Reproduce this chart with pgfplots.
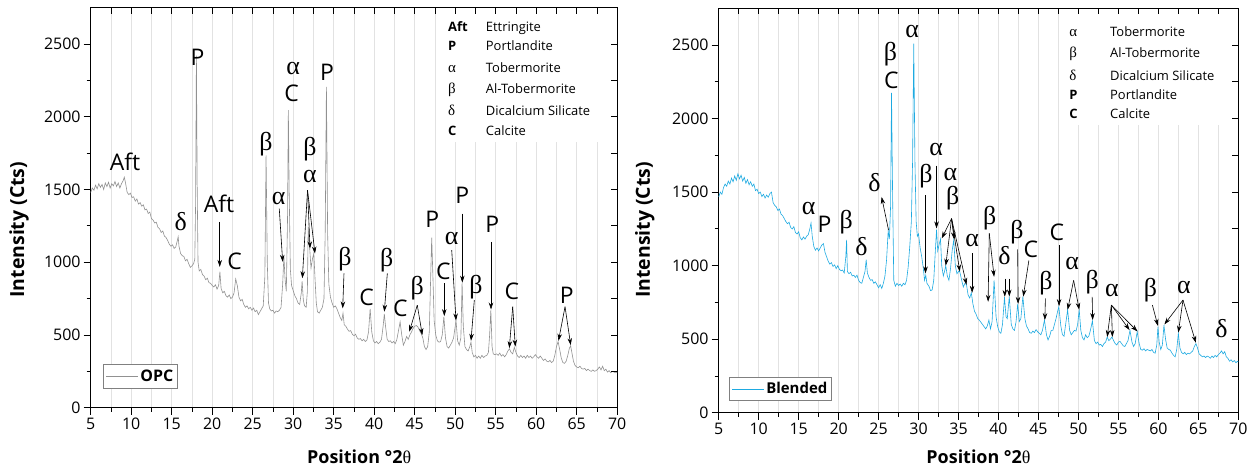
\documentclass[border=0pt]{standalone}
\usepackage{pgfplots}
\pgfplotsset{compat=1.18}
\usetikzlibrary{arrows.meta}
\usepackage{fontspec}
\setmainfont{Open Sans}
\newfontfamily\grk{Liberation Serif}
\definecolor{opc}{RGB}{145,145,145}
\definecolor{bl}{RGB}{30,170,225}
\definecolor{gridc}{RGB}{226,226,226}
\newcommand{\lab}[1]{{\fontsize{23}{23}\selectfont #1}}
\newcommand{\glab}[1]{{\grk\fontsize{26}{26}\selectfont #1}}
\newcommand{\lsym}[1]{{\fontsize{13}{13}\selectfont\bfseries #1}}
\newcommand{\lgsym}[1]{{\grk\fontsize{15}{15}\selectfont #1}}
\newcommand{\ltxt}[1]{{\fontsize{13}{13}\selectfont #1}}
\tikzset{arr/.style={-{Stealth[length=7bp,width=4.5bp]}, line width=0.6bp, black},
  every node/.append style={inner sep=0pt}}
\pgfplotsset{
 base/.style={scale only axis, xmin=5, xmax=70, ymin=0, ymax=2750, clip=false,
   axis line style={line width=0.9bp}},
 main/.style={base, xtick={5,10,...,70}, ytick={0,500,...,2500},
   minor x tick num=1, minor y tick num=1, xtick pos=bottom, ytick pos=left,
   tick align=outside, major tick length=7bp, minor tick length=4bp,
   xmajorgrids, xminorgrids,
   major grid style={gridc, line width=0.6bp}, minor grid style={gridc, line width=0.6bp},
   tick style={black, line width=0.8bp},
   ticklabel style={font=\fontsize{16}{16}\selectfont, inner sep=3bp},
   /pgf/number format/assume math mode=true, /pgf/number format/1000 sep={},
   xlabel={Position °2{\grk\mdseries θ}}, ylabel={Intensity (Cts)},
   xlabel style={font=\fontsize{18}{18}\selectfont\bfseries},
   ylabel style={font=\fontsize{19.5}{19.5}\selectfont\bfseries},
   legend cell align=left,
   legend image code/.code={\draw[#1] (0bp,0bp) -- (32bp,0bp);},
   legend style={draw=gray, line width=0.8bp, fill=white, inner xsep=2bp, inner ysep=3bp,
     nodes={inner sep=2bp}}},
 over/.style={base, xtick={5,7.5,...,70}, ytick={250,500,...,2500}, xtick pos=top, ytick pos=right,
   tick align=inside, major tick length=6bp, xticklabels={}, yticklabels={},
   tick style={black, line width=0.8bp}, axis line style={draw=none}}
}
\begin{document}
\begin{tikzpicture}
% ---------------- OPC ----------------
\begin{axis}[main, width=526.5bp, height=400bp, at={(0bp,0bp)}, anchor=south west,
  ylabel style={at={(axis description cs:-0.136,0.445)}, anchor=center},
  xlabel style={at={(axis description cs:0.51,-0.1225)}, anchor=center},
  legend style={at={(axis description cs:0.024,0.0485)}, anchor=south west,
    font=\fontsize{16}{16}\selectfont\bfseries}]
\fill[white] (axis cs:48.6,1830) rectangle (axis cs:68.5,2745);
\addplot[opc, line width=0.6bp] coordinates {
(5.0,1480)(5.2,1510)(5.4,1495)(5.6,1530)(5.8,1505)(6.0,1540)(6.2,1515)(6.4,1535)(6.6,1500)(6.8,1545)
(7.0,1520)(7.2,1550)(7.4,1510)(7.6,1540)(7.8,1525)(8.0,1555)(8.2,1520)(8.4,1545)(8.6,1510)(8.8,1540)
(9.0,1560)(9.15,1585)(9.3,1545)(9.5,1480)(9.7,1465)(9.9,1475)(10.1,1445)(10.3,1450)(10.5,1420)(10.7,1435)
(10.9,1400)(11.1,1410)(11.3,1385)(11.5,1395)(11.7,1360)(11.9,1365)(12.1,1335)(12.3,1345)(12.5,1300)(12.7,1290)
(12.9,1270)(13.1,1275)(13.3,1240)(13.5,1230)(13.7,1205)(13.9,1215)(14.1,1180)(14.3,1170)(14.5,1150)(14.7,1125)
(14.9,1110)(15.1,1120)(15.3,1095)(15.5,1105)(15.7,1150)(15.8,1175)(15.9,1110)(16.1,1060)(16.3,1045)(16.5,1040)
(16.7,1010)(16.9,1020)(17.1,990)(17.3,965)(17.5,975)(17.7,990)(17.85,1020)(17.95,1400)(18.05,2420)(18.15,1500)
(18.25,1000)(18.4,940)(18.6,950)(18.8,915)(19.0,905)(19.2,880)(19.4,890)(19.6,860)(19.8,855)(20.0,840)
(20.2,830)(20.4,845)(20.6,815)(20.8,840)(20.95,935)(21.1,820)(21.3,790)(21.5,800)(21.7,770)(21.9,760)
(22.1,775)(22.3,750)(22.5,760)(22.7,790)(22.9,885)(23.1,840)(23.3,760)(23.5,735)(23.7,745)(23.9,710)
(24.1,690)(24.3,700)(24.5,680)(24.7,690)(24.9,670)(25.1,685)(25.3,660)(25.5,670)(25.7,640)(25.9,660)
(26.1,680)(26.3,700)(26.5,900)(26.65,1735)(26.8,1000)(26.95,720)(27.1,680)(27.3,665)(27.5,670)(27.7,650)
(27.9,665)(28.1,660)(28.3,670)(28.5,690)(28.7,850)(28.85,1040)(29.0,880)(29.15,800)(29.3,1300)(29.4,2045)
(29.5,1500)(29.65,950)(29.8,840)(30.0,805)(30.2,770)(30.4,750)(30.6,720)(30.8,710)(31.0,790)(31.1,870)
(31.25,740)(31.4,700)(31.6,690)(31.75,800)(31.85,1245)(31.95,1150)(32.05,1085)(32.2,960)(32.4,1030)(32.55,1060)
(32.7,880)(32.85,720)(33.0,660)(33.2,650)(33.4,670)(33.6,690)(33.8,750)(33.95,1200)(34.1,2205)(34.25,1200)
(34.4,850)(34.6,760)(34.8,720)(35.0,690)(35.2,700)(35.4,680)(35.6,650)(35.8,620)(36.0,600)(36.15,650)
(36.3,570)(36.5,560)(36.7,540)(36.9,525)(37.1,530)(37.3,505)(37.5,495)(37.7,505)(37.9,480)(38.1,470)
(38.3,475)(38.5,460)(38.7,470)(38.9,455)(39.1,465)(39.3,520)(39.5,680)(39.7,520)(39.9,460)(40.1,445)
(40.3,455)(40.5,440)(40.7,450)(40.9,470)(41.1,560)(41.25,645)(41.4,560)(41.6,470)(41.8,455)(42.0,460)
(42.2,445)(42.4,455)(42.6,440)(42.8,470)(43.0,530)(43.2,590)(43.4,500)(43.6,430)(43.8,455)(44.0,490)
(44.2,470)(44.4,500)(44.6,520)(44.8,545)(45.0,560)(45.2,565)(45.4,555)(45.6,530)(45.8,510)(46.0,480)
(46.2,420)(46.4,400)(46.6,420)(46.8,520)(46.95,850)(47.1,1170)(47.25,900)(47.4,600)(47.6,500)(47.8,460)
(48.0,450)(48.2,455)(48.4,500)(48.6,625)(48.8,480)(49.0,420)(49.2,410)(49.4,430)(49.6,450)(49.8,480)
(50.0,560)(50.1,600)(50.3,460)(50.5,430)(50.7,480)(50.85,860)(51.0,560)(51.2,420)(51.4,400)(51.6,390)
(51.8,420)(51.95,450)(52.1,380)(52.3,350)(52.5,360)(52.7,340)(52.9,355)(53.1,340)(53.3,360)(53.5,345)
(53.7,355)(53.9,360)(54.1,380)(54.25,500)(54.4,670)(54.55,420)(54.7,370)(54.9,365)(55.1,370)(55.3,360)
(55.5,375)(55.7,355)(55.9,365)(56.1,350)(56.3,365)(56.5,390)(56.7,405)(56.9,380)(57.1,370)(57.3,415)
(57.5,380)(57.7,355)(57.9,345)(58.1,360)(58.3,345)(58.5,355)(58.7,340)(58.9,360)(59.1,345)(59.3,355)
(59.5,340)(59.7,350)(59.9,365)(60.1,350)(60.3,340)(60.5,355)(60.7,340)(60.9,325)(61.1,335)(61.3,320)
(61.5,315)(61.7,325)(61.9,310)(62.1,320)(62.3,360)(62.5,420)(62.7,455)(62.9,400)(63.1,340)(63.3,310)
(63.5,305)(63.7,320)(63.9,360)(64.1,410)(64.25,425)(64.4,380)(64.6,320)(64.8,290)(65.0,280)(65.2,275)
(65.4,285)(65.6,270)(65.8,265)(66.0,270)(66.2,255)(66.4,265)(66.6,255)(66.8,250)(67.0,260)(67.2,250)
(67.4,255)(67.6,265)(67.8,280)(68.0,260)(68.2,285)(68.4,255)(68.6,265)(68.8,245)(69.0,255)(69.2,240)
(69.4,250)(69.6,245)(69.8,240)(70.0,245)};
\addlegendentry{OPC}
% legend list
\node[anchor=base west] at (axis cs:49.11,2589) {\lsym{Aft}};
\node[anchor=base west] at (axis cs:53.77,2589) {\ltxt{Ettringite}};
\node[anchor=base west] at (axis cs:49.11,2457) {\lsym{P}};
\node[anchor=base west] at (axis cs:53.77,2457) {\ltxt{Portlandite}};
\node[anchor=base west] at (axis cs:49.11,2304) {\lgsym{α}};
\node[anchor=base west] at (axis cs:53.77,2304) {\ltxt{Tobermorite}};
\node[anchor=base west] at (axis cs:49.11,2160) {\lgsym{β}};
\node[anchor=base west] at (axis cs:53.77,2160) {\ltxt{Al-Tobermorite}};
\node[anchor=base west] at (axis cs:49.11,2011) {\lgsym{δ}};
\node[anchor=base west] at (axis cs:53.77,2011) {\ltxt{Dicalcium Silicate}};
\node[anchor=base west] at (axis cs:49.11,1874) {\lsym{C}};
\node[anchor=base west] at (axis cs:53.77,1874) {\ltxt{Calcite}};
% peak labels
\node at (axis cs:9.23,1691) {\lab{Aft}};
\node at (axis cs:18.19,2410) {\lab{P}};
\node at (axis cs:16.12,1277) {\glab{δ}};
\node at (axis cs:20.84,1399) {\lab{Aft}};
\draw[arr] (axis cs:20.93,1277) -- (axis cs:20.93,968);
\node at (axis cs:22.78,1003) {\lab{C}};
\node at (axis cs:26.64,1811) {\glab{β}};
\node at (axis cs:28.2,1440) {\glab{α}};
\draw[arr] (axis cs:28.28,1369) -- (axis cs:28.7,1003);
\node at (axis cs:30.0,2333) {\glab{α}};
\node at (axis cs:29.8,2159) {\lab{C}};
\node at (axis cs:34.17,2308) {\lab{P}};
\node at (axis cs:32.07,1780) {\glab{β}};
\node at (axis cs:32.07,1590) {\glab{α}};
\draw[arr] (axis cs:31.77,1495) -- (axis cs:31.13,890);
\draw[arr] (axis cs:31.77,1495) -- (axis cs:32.08,1095);
\draw[arr] (axis cs:31.77,1495) -- (axis cs:32.69,1060);
\node at (axis cs:36.4,1023) {\glab{β}};
\draw[arr] (axis cs:36.27,923) -- (axis cs:36.11,683);
\node at (axis cs:39.07,762) {\lab{C}};
\node at (axis cs:41.54,1014) {\glab{β}};
\draw[arr] (axis cs:41.62,923) -- (axis cs:41.25,660);
\node at (axis cs:43.22,683) {\lab{C}};
\node at (axis cs:45.32,820) {\glab{β}};
\draw[arr] (axis cs:45.32,705) -- (axis cs:44.33,522);
\draw[arr] (axis cs:45.32,705) -- (axis cs:45.94,499);
\node at (axis cs:47.17,1296) {\lab{P}};
\node at (axis cs:48.53,939) {\lab{C}};
\draw[arr] (axis cs:48.65,854) -- (axis cs:48.65,630);
\node at (axis cs:49.57,1163) {\glab{α}};
\draw[arr] (axis cs:49.57,1083) -- (axis cs:50.1,600);
\node at (axis cs:50.88,1461) {\lab{P}};
\draw[arr] (axis cs:50.88,1335) -- (axis cs:50.88,860);
\node at (axis cs:52.55,831) {\glab{β}};
\draw[arr] (axis cs:52.36,740) -- (axis cs:51.95,460);
\node at (axis cs:54.58,1259) {\lab{P}};
\draw[arr] (axis cs:54.42,1140) -- (axis cs:54.42,675);
\node at (axis cs:57.0,797) {\lab{C}};
\draw[arr] (axis cs:57.1,694) -- (axis cs:56.68,410);
\draw[arr] (axis cs:57.1,694) -- (axis cs:57.42,420);
\node at (axis cs:63.77,774) {\lab{P}};
\draw[arr] (axis cs:63.56,694) -- (axis cs:62.75,460);
\draw[arr] (axis cs:63.56,694) -- (axis cs:64.26,430);
\end{axis}
\begin{axis}[over, width=526.5bp, height=400bp, at={(0bp,0bp)}, anchor=south west]
\end{axis}
% ---------------- Blended ----------------
\begin{axis}[main, width=519.6bp, height=404.4bp, at={(628bp,-5bp)}, anchor=south west,
  ylabel style={at={(axis description cs:-0.142,0.452)}, anchor=center},
  xlabel style={at={(axis description cs:0.5,-0.1095)}, anchor=center},
  legend style={at={(axis description cs:0.0204,0.0297)}, anchor=south west,
    font=\fontsize{15}{15}\selectfont\bfseries}]
\fill[white] (axis cs:48.3,1954) rectangle (axis cs:68.9,2745);
\addplot[bl, line width=0.6bp] coordinates {
(5.0,1467)(5.2,1500)(5.4,1485)(5.6,1530)(5.8,1555)(6.0,1540)(6.2,1575)(6.4,1555)(6.6,1595)(6.8,1570)
(7.0,1610)(7.2,1580)(7.4,1625)(7.6,1590)(7.8,1615)(8.0,1575)(8.2,1600)(8.4,1560)(8.6,1585)(8.8,1550)
(9.0,1570)(9.2,1540)(9.4,1555)(9.6,1510)(9.8,1520)(10.0,1490)(10.2,1500)(10.4,1470)(10.6,1485)(10.8,1460)
(11.0,1480)(11.2,1465)(11.4,1490)(11.6,1500)(11.8,1430)(12.0,1410)(12.2,1400)(12.4,1375)(12.6,1385)(12.8,1350)
(13.0,1340)(13.2,1320)(13.4,1300)(13.6,1285)(13.8,1295)(14.0,1260)(14.2,1250)(14.4,1265)(14.6,1225)(14.8,1215)
(15.0,1230)(15.2,1190)(15.4,1175)(15.6,1195)(15.8,1180)(16.0,1200)(16.2,1210)(16.4,1250)(16.55,1290)(16.7,1200)
(16.9,1130)(17.1,1105)(17.3,1120)(17.5,1100)(17.7,1120)(17.9,1140)(18.1,1150)(18.3,1090)(18.5,1060)(18.7,1030)
(18.9,1010)(19.1,1020)(19.3,995)(19.5,1005)(19.7,980)(19.9,1000)(20.1,975)(20.3,965)(20.5,970)(20.7,950)
(20.9,1060)(21.0,1175)(21.1,960)(21.3,945)(21.5,955)(21.7,930)(21.9,935)(22.1,920)(22.3,935)(22.5,900)
(22.7,885)(22.9,880)(23.1,920)(23.3,960)(23.45,1040)(23.6,950)(23.8,920)(24.0,900)(24.2,905)(24.4,880)
(24.6,890)(24.8,870)(25.0,850)(25.2,870)(25.4,845)(25.6,880)(25.8,930)(26.0,1040)(26.2,1235)(26.35,1180)
(26.5,1400)(26.62,2175)(26.75,1500)(26.9,900)(27.1,860)(27.3,880)(27.5,865)(27.7,875)(27.9,860)(28.1,880)
(28.3,870)(28.5,900)(28.7,990)(28.9,1130)(29.1,1300)(29.25,1700)(29.4,2510)(29.55,1700)(29.7,1300)(29.85,1200)
(30.0,1215)(30.2,1120)(30.4,1060)(30.6,980)(30.75,900)(30.9,935)(31.05,880)(31.3,860)(31.5,830)(31.7,835)
(31.9,900)(32.05,1050)(32.25,1245)(32.4,1100)(32.6,1150)(32.75,1180)(32.9,1000)(33.1,930)(33.25,960)(33.4,1000)
(33.6,930)(33.8,900)(34.0,980)(34.2,1100)(34.4,1175)(34.6,1000)(34.8,945)(35.0,960)(35.15,960)(35.4,900)
(35.6,855)(35.8,880)(36.0,870)(36.2,800)(36.4,780)(36.6,815)(36.8,740)(37.0,690)(37.2,670)(37.4,640)
(37.6,630)(37.8,615)(38.0,600)(38.2,585)(38.4,570)(38.6,590)(38.8,630)(39.0,570)(39.2,620)(39.45,900)
(39.7,650)(39.9,585)(40.1,550)(40.3,540)(40.5,600)(40.75,785)(40.95,650)(41.1,640)(41.35,790)(41.6,600)
(41.8,570)(42.0,560)(42.2,620)(42.4,740)(42.6,620)(42.8,640)(43.05,790)(43.3,640)(43.5,590)(43.7,570)
(43.9,545)(44.1,540)(44.3,555)(44.5,545)(44.7,565)(44.9,550)(45.1,540)(45.3,530)(45.5,560)(45.75,630)
(46.0,530)(46.2,495)(46.4,520)(46.6,560)(46.8,560)(47.0,600)(47.2,640)(47.4,690)(47.55,720)(47.8,590)
(48.0,530)(48.2,520)(48.4,600)(48.65,700)(48.9,560)(49.1,530)(49.3,545)(49.5,560)(49.7,555)(49.9,600)
(50.1,700)(50.3,560)(50.5,510)(50.7,495)(50.9,530)(51.1,510)(51.3,520)(51.5,560)(51.75,625)(52.0,490)
(52.2,470)(52.4,480)(52.6,460)(52.8,465)(53.0,450)(53.2,470)(53.4,480)(53.6,515)(53.8,490)(54.0,500)
(54.2,515)(54.4,490)(54.6,470)(54.8,460)(55.0,480)(55.2,485)(55.4,470)(55.6,455)(55.8,450)(56.0,470)
(56.2,490)(56.45,560)(56.7,480)(56.9,450)(57.1,470)(57.35,550)(57.6,470)(57.8,430)(58.0,425)(58.2,435)
(58.4,420)(58.6,430)(58.8,425)(59.0,420)(59.2,430)(59.4,410)(59.6,405)(59.8,460)(59.95,585)(60.1,480)
(60.3,430)(60.5,460)(60.7,595)(60.9,500)(61.1,440)(61.3,430)(61.5,425)(61.7,405)(61.9,390)(62.1,380)
(62.3,430)(62.5,540)(62.7,440)(62.9,410)(63.1,400)(63.3,410)(63.5,395)(63.7,405)(63.9,400)(64.1,410)
(64.3,420)(64.5,450)(64.7,470)(64.9,440)(65.1,400)(65.3,390)(65.5,380)(65.7,385)(65.9,375)(66.1,385)
(66.3,380)(66.5,370)(66.7,385)(66.9,375)(67.1,390)(67.3,380)(67.5,395)(67.7,405)(67.9,420)(68.1,400)
(68.3,415)(68.5,380)(68.7,370)(68.9,350)(69.1,360)(69.3,345)(69.5,355)(69.7,340)(69.9,350)(70.0,345)};
\addlegendentry{Blended}
% legend list
\node[anchor=base west] at (axis cs:48.83,2559) {\lgsym{α}};
\node[anchor=base west] at (axis cs:53.95,2559) {\ltxt{Tobermorite}};
\node[anchor=base west] at (axis cs:48.83,2414) {\lgsym{β}};
\node[anchor=base west] at (axis cs:53.95,2414) {\ltxt{Al-Tobermorite}};
\node[anchor=base west] at (axis cs:48.83,2260) {\lgsym{δ}};
\node[anchor=base west] at (axis cs:53.95,2260) {\ltxt{Dicalcium Silicate}};
\node[anchor=base west] at (axis cs:48.83,2129) {\lsym{P}};
\node[anchor=base west] at (axis cs:53.95,2129) {\ltxt{Portlandite}};
\node[anchor=base west] at (axis cs:48.83,2000) {\lsym{C}};
\node[anchor=base west] at (axis cs:53.95,2000) {\ltxt{Calcite}};
% peak labels
\node at (axis cs:16.26,1389) {\glab{α}};
\node at (axis cs:18.25,1282) {\lab{P}};
\node at (axis cs:20.95,1298) {\glab{β}};
\node at (axis cs:22.85,1128) {\glab{δ}};
\node at (axis cs:24.5,1564) {\glab{δ}};
\draw[arr] (axis cs:26.25,1241) -- (axis cs:25.38,1467);
\node at (axis cs:26.5,2437) {\glab{β}};
\node at (axis cs:26.6,2260) {\lab{C}};
\node at (axis cs:29.2,2594) {\glab{α}};
\node at (axis cs:32.2,1790) {\glab{α}};
\draw[arr] (axis cs:32.25,1680) -- (axis cs:32.25,1253);
\node at (axis cs:30.94,1610) {\glab{β}};
\draw[arr] (axis cs:30.87,1480) -- (axis cs:30.87,947);
\node at (axis cs:34.0,1622) {\glab{α}};
\node at (axis cs:34.26,1457) {\glab{β}};
\draw[arr] (axis cs:34.13,1320) -- (axis cs:32.9,1185);
\draw[arr] (axis cs:34.13,1320) -- (axis cs:33.4,1000);
\draw[arr] (axis cs:34.13,1320) -- (axis cs:34.45,1180);
\draw[arr] (axis cs:34.13,1320) -- (axis cs:35.16,960);
\draw[arr] (axis cs:34.13,1320) -- (axis cs:36.0,870);
\node at (axis cs:36.72,1168) {\glab{α}};
\draw[arr] (axis cs:36.7,1083) -- (axis cs:36.7,815);
\node at (axis cs:38.9,1326) {\glab{β}};
\draw[arr] (axis cs:38.85,1219) -- (axis cs:38.7,754);
\draw[arr] (axis cs:38.85,1219) -- (axis cs:39.45,924);
\node at (axis cs:40.75,1066) {\glab{δ}};
\draw[arr] (axis cs:40.79,912) -- (axis cs:40.79,788);
\draw[arr] (axis cs:41.35,912) -- (axis cs:41.35,790);
\node at (axis cs:42.3,1230) {\glab{β}};
\draw[arr] (axis cs:42.4,1110) -- (axis cs:42.45,740);
\node at (axis cs:44.05,1112) {\lab{C}};
\draw[arr] (axis cs:43.8,1035) -- (axis cs:43.1,790);
\node at (axis cs:45.94,879) {\glab{β}};
\draw[arr] (axis cs:45.87,777) -- (axis cs:45.8,630);
\node at (axis cs:47.29,1227) {\lab{C}};
\draw[arr] (axis cs:47.58,1139) -- (axis cs:47.58,725);
\node at (axis cs:49.22,1015) {\glab{α}};
\draw[arr] (axis cs:49.4,900) -- (axis cs:48.65,700);
\draw[arr] (axis cs:49.4,900) -- (axis cs:50.1,700);
\node at (axis cs:51.72,890) {\glab{β}};
\draw[arr] (axis cs:51.72,788) -- (axis cs:51.78,630);
\node at (axis cs:54.2,834) {\glab{α}};
\draw[arr] (axis cs:54.12,732) -- (axis cs:53.6,515);
\draw[arr] (axis cs:54.12,732) -- (axis cs:54.25,515);
\draw[arr] (axis cs:54.12,732) -- (axis cs:56.4,562);
\draw[arr] (axis cs:54.12,732) -- (axis cs:57.4,552);
\node at (axis cs:59.0,834) {\glab{β}};
\draw[arr] (axis cs:59.25,732) -- (axis cs:59.95,590);
\node at (axis cs:63.2,851) {\glab{α}};
\draw[arr] (axis cs:63.08,766) -- (axis cs:60.75,600);
\draw[arr] (axis cs:63.08,766) -- (axis cs:62.5,545);
\draw[arr] (axis cs:63.08,766) -- (axis cs:64.7,475);
\node at (axis cs:67.9,573) {\glab{δ}};
\end{axis}
\begin{axis}[over, width=519.6bp, height=404.4bp, at={(628bp,-5bp)}, anchor=south west]
\end{axis}
\pgfresetboundingbox
\path (-90.7bp,-63.3bp) rectangle (1168.3bp,407.7bp);
\end{tikzpicture}
\end{document}
